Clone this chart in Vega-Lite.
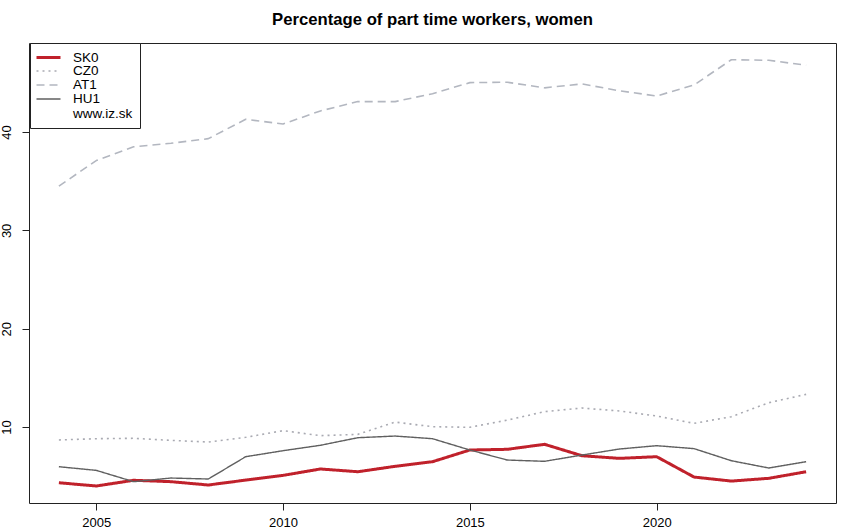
{
  "$schema": "https://vega.github.io/schema/vega-lite/v6.json",
  "width": 807,
  "height": 460,
  "autosize": {"type": "none"},
  "padding": {"left": 29, "top": 43, "right": 14, "bottom": 29},
  "background": "white",
  "title": {
    "text": "Percentage of part time workers, women",
    "font": "Liberation Sans",
    "fontSize": 16.7,
    "fontWeight": "bold",
    "color": "black",
    "anchor": "middle",
    "baseline": "alphabetic",
    "offset": 1
  },
  "data": {
    "values": [
      {"year": 2004, "series": "SK0", "value": 4.33},
      {"year": 2005, "series": "SK0", "value": 4.0},
      {"year": 2006, "series": "SK0", "value": 4.58},
      {"year": 2007, "series": "SK0", "value": 4.44},
      {"year": 2008, "series": "SK0", "value": 4.1},
      {"year": 2009, "series": "SK0", "value": 4.6},
      {"year": 2010, "series": "SK0", "value": 5.08},
      {"year": 2011, "series": "SK0", "value": 5.73},
      {"year": 2012, "series": "SK0", "value": 5.45},
      {"year": 2013, "series": "SK0", "value": 6.0},
      {"year": 2014, "series": "SK0", "value": 6.47},
      {"year": 2015, "series": "SK0", "value": 7.66},
      {"year": 2016, "series": "SK0", "value": 7.73},
      {"year": 2017, "series": "SK0", "value": 8.24},
      {"year": 2018, "series": "SK0", "value": 7.08},
      {"year": 2019, "series": "SK0", "value": 6.81},
      {"year": 2020, "series": "SK0", "value": 6.98},
      {"year": 2021, "series": "SK0", "value": 4.91},
      {"year": 2022, "series": "SK0", "value": 4.5},
      {"year": 2023, "series": "SK0", "value": 4.78},
      {"year": 2024, "series": "SK0", "value": 5.45},
      {"year": 2004, "series": "CZ0", "value": 8.68},
      {"year": 2005, "series": "CZ0", "value": 8.81},
      {"year": 2006, "series": "CZ0", "value": 8.85},
      {"year": 2007, "series": "CZ0", "value": 8.64},
      {"year": 2008, "series": "CZ0", "value": 8.47},
      {"year": 2009, "series": "CZ0", "value": 8.95},
      {"year": 2010, "series": "CZ0", "value": 9.63},
      {"year": 2011, "series": "CZ0", "value": 9.12},
      {"year": 2012, "series": "CZ0", "value": 9.25},
      {"year": 2013, "series": "CZ0", "value": 10.5},
      {"year": 2014, "series": "CZ0", "value": 10.03},
      {"year": 2015, "series": "CZ0", "value": 9.97},
      {"year": 2016, "series": "CZ0", "value": 10.7},
      {"year": 2017, "series": "CZ0", "value": 11.56},
      {"year": 2018, "series": "CZ0", "value": 11.93},
      {"year": 2019, "series": "CZ0", "value": 11.63},
      {"year": 2020, "series": "CZ0", "value": 11.12},
      {"year": 2021, "series": "CZ0", "value": 10.37},
      {"year": 2022, "series": "CZ0", "value": 11.05},
      {"year": 2023, "series": "CZ0", "value": 12.47},
      {"year": 2024, "series": "CZ0", "value": 13.32},
      {"year": 2004, "series": "AT1", "value": 34.5},
      {"year": 2005, "series": "AT1", "value": 37.1},
      {"year": 2006, "series": "AT1", "value": 38.5},
      {"year": 2007, "series": "AT1", "value": 38.86},
      {"year": 2008, "series": "AT1", "value": 39.33},
      {"year": 2009, "series": "AT1", "value": 41.3},
      {"year": 2010, "series": "AT1", "value": 40.82},
      {"year": 2011, "series": "AT1", "value": 42.15},
      {"year": 2012, "series": "AT1", "value": 43.1},
      {"year": 2013, "series": "AT1", "value": 43.1},
      {"year": 2014, "series": "AT1", "value": 43.9},
      {"year": 2015, "series": "AT1", "value": 45.03},
      {"year": 2016, "series": "AT1", "value": 45.07},
      {"year": 2017, "series": "AT1", "value": 44.5},
      {"year": 2018, "series": "AT1", "value": 44.9},
      {"year": 2019, "series": "AT1", "value": 44.2},
      {"year": 2020, "series": "AT1", "value": 43.67},
      {"year": 2021, "series": "AT1", "value": 44.79},
      {"year": 2022, "series": "AT1", "value": 47.36},
      {"year": 2023, "series": "AT1", "value": 47.3},
      {"year": 2024, "series": "AT1", "value": 46.8},
      {"year": 2004, "series": "HU1", "value": 5.96},
      {"year": 2005, "series": "HU1", "value": 5.59},
      {"year": 2006, "series": "HU1", "value": 4.44},
      {"year": 2007, "series": "HU1", "value": 4.81},
      {"year": 2008, "series": "HU1", "value": 4.71},
      {"year": 2009, "series": "HU1", "value": 6.98},
      {"year": 2010, "series": "HU1", "value": 7.59},
      {"year": 2011, "series": "HU1", "value": 8.14},
      {"year": 2012, "series": "HU1", "value": 8.91},
      {"year": 2013, "series": "HU1", "value": 9.08},
      {"year": 2014, "series": "HU1", "value": 8.81},
      {"year": 2015, "series": "HU1", "value": 7.66},
      {"year": 2016, "series": "HU1", "value": 6.64},
      {"year": 2017, "series": "HU1", "value": 6.51},
      {"year": 2018, "series": "HU1", "value": 7.15},
      {"year": 2019, "series": "HU1", "value": 7.76},
      {"year": 2020, "series": "HU1", "value": 8.1},
      {"year": 2021, "series": "HU1", "value": 7.8},
      {"year": 2022, "series": "HU1", "value": 6.57},
      {"year": 2023, "series": "HU1", "value": 5.83},
      {"year": 2024, "series": "HU1", "value": 6.47}
    ]
  },
  "mark": {"type": "line", "strokeJoin": "round"},
  "encoding": {
    "x": {
      "field": "year",
      "type": "quantitative",
      "scale": {"domain": [2003.2, 2024.8], "nice": false, "zero": false},
      "axis": {"values": [2005, 2010, 2015, 2020], "format": "d", "title": null}
    },
    "y": {
      "field": "value",
      "type": "quantitative",
      "scale": {"domain": [2.27, 49.06], "nice": false, "zero": false},
      "axis": {
        "values": [10, 20, 30, 40],
        "title": null,
        "labelAngle": -90,
        "labelAlign": "center",
        "labelBaseline": "bottom",
        "labelPadding": 9
      }
    },
    "color": {
      "field": "series",
      "type": "nominal",
      "scale": {
        "domain": ["SK0", "CZ0", "AT1", "HU1", "www.iz.sk"],
        "range": ["#c0212b", "#a9aab2", "#b3b7c0", "#606060", "rgba(0,0,0,0)"]
      },
      "legend": {"title": null}
    },
    "strokeDash": {
      "field": "series",
      "type": "nominal",
      "scale": {
        "domain": ["SK0", "CZ0", "AT1", "HU1", "www.iz.sk"],
        "range": [[1, 0], [2, 4], [8, 5], [1, 0], [1, 0]]
      },
      "legend": {"title": null}
    },
    "strokeWidth": {
      "field": "series",
      "type": "nominal",
      "scale": {
        "type": "ordinal",
        "domain": ["SK0", "CZ0", "AT1", "HU1", "www.iz.sk"],
        "range": [3, 1.6, 1.6, 1.4, 0]
      },
      "legend": {"title": null}
    }
  },
  "config": {
    "view": {"stroke": "#222", "strokeWidth": 1},
    "axis": {
      "grid": false,
      "domain": false,
      "tickSize": 7,
      "tickColor": "#222",
      "labelFont": "Liberation Sans",
      "labelFontSize": 13,
      "labelColor": "black",
      "labelPadding": 6
    },
    "legend": {
      "orient": "none",
      "legendX": 1,
      "legendY": 0,
      "padding": 7,
      "strokeColor": "#222",
      "fillColor": "white",
      "symbolType": "M-2,0H2",
      "symbolSize": 144,
      "symbolOffset": 4,
      "labelFont": "Liberation Sans",
      "labelFontSize": 13.5,
      "labelColor": "black",
      "labelOffset": 17,
      "rowPadding": 0,
      "cornerRadius": 0
    }
  }
}
